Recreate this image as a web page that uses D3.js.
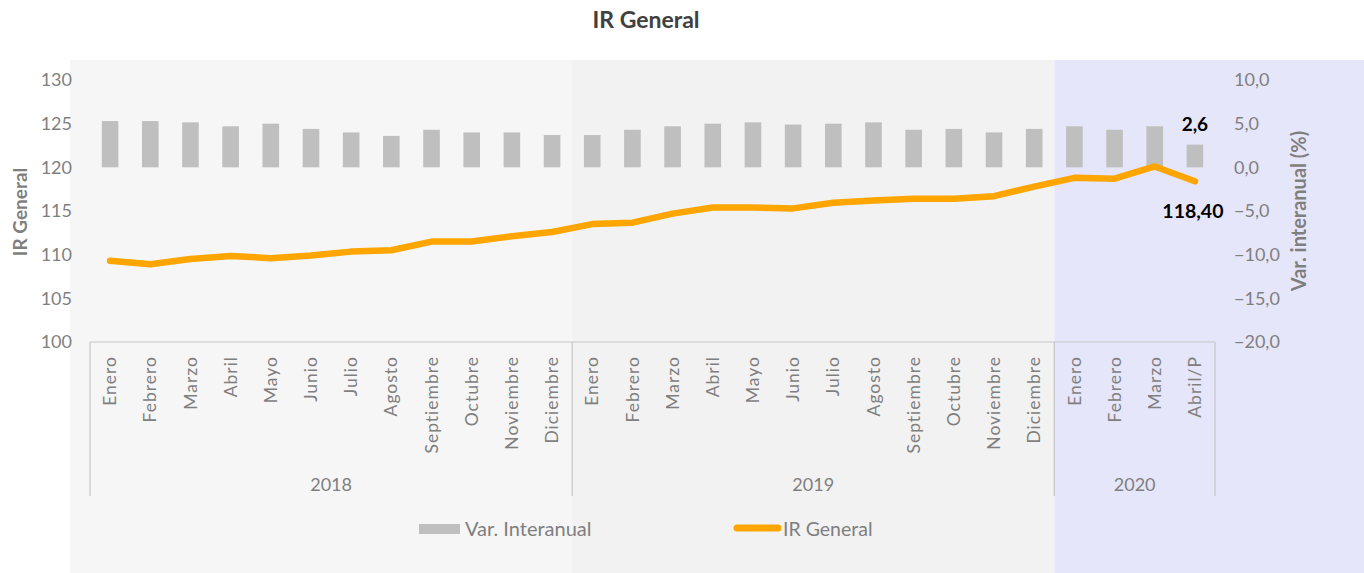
<!DOCTYPE html>
<html>
<head>
<meta charset="utf-8">
<script src="https://cdn.jsdelivr.net/npm/d3@7"></script>
<style>
  body { margin: 0; background: #fff; }
  svg { display: block; font-family: Lato, "Open Sans", sans-serif; }
</style>
</head>
<body>
<svg id="chart" width="1364" height="573"></svg>
<script>
// months shown on the category axis
const months = ["Enero","Febrero","Marzo","Abril","Mayo","Junio","Julio","Agosto","Septiembre","Octubre","Noviembre","Diciembre",
  "Enero","Febrero","Marzo","Abril","Mayo","Junio","Julio","Agosto","Septiembre","Octubre","Noviembre","Diciembre",
  "Enero","Febrero","Marzo","Abril/P"];
const years = ["2018","2019","2020"];
const yearCounts = [12, 12, 4];

// Var. interanual (%) - bars, right axis
const varInteranual = [5.3,5.3,5.15,4.7,5.0,4.4,4.0,3.6,4.3,4.0,4.0,3.7,
  3.7,4.3,4.7,5.0,5.15,4.9,5.0,5.15,4.3,4.4,4.0,4.4,
  4.7,4.3,4.7,2.6];
// IR General - line, left axis
const irGeneral = [109.3,108.9,109.5,109.85,109.6,109.9,110.35,110.5,111.5,111.5,112.1,112.6,
  113.5,113.66,114.7,115.4,115.4,115.3,115.95,116.2,116.4,116.4,116.7,117.8,
  118.8,118.7,120.1,118.4];

const leftTicks = [100,105,110,115,120,125,130];
const rightTicks = [-20,-15,-10,-5,0,5,10];
const panelColors = ["#f6f6f6","#f2f2f2","#e6e6fa"];

const svg = d3.select("#chart");
const W = 1364, H = 573;
const x0 = 90, x1 = 1215, yTop = 80, yBot = 342;

const idx = d3.range(months.length);
const x = d3.scaleBand().domain(idx).range([x0, x1]).padding(0);
const yL = d3.scaleLinear().domain([100, 130]).range([yBot, yTop]);
const yR = d3.scaleLinear().domain([-20, 10]).range([yBot, yTop]);

const grey = "#7f7f7f";

// year boundaries (index where each year starts)
const starts = yearCounts.map((c, i) => d3.sum(yearCounts.slice(0, i)));
const bounds = starts.map(s => x(s)).concat([x1]);

// background panels per year
const panelEdges = [70, bounds[1], bounds[2], W];
svg.selectAll("rect.panel")
  .data(years)
  .join("rect")
  .attr("class", "panel")
  .attr("x", (d, i) => panelEdges[i])
  .attr("y", 60)
  .attr("width", (d, i) => panelEdges[i + 1] - panelEdges[i])
  .attr("height", H - 60)
  .attr("fill", (d, i) => panelColors[i]);

// title
svg.append("text")
  .attr("x", 646).attr("y", 28)
  .attr("text-anchor", "middle")
  .attr("font-size", 23).attr("font-weight", 700)
  .attr("fill", "#404040")
  .text("IR General");

// left axis
const axL = svg.append("g").attr("transform", `translate(${72},0)`)
  .call(d3.axisLeft(yL).tickValues(leftTicks).tickSize(0).tickPadding(0));
axL.select(".domain").remove();
axL.selectAll("text").attr("font-size", 18).attr("fill", grey).attr("font-family", "Lato");

// right axis
const axR = svg.append("g").attr("transform", `translate(${1234},0)`)
  .call(d3.axisRight(yR).tickValues(rightTicks).tickSize(0).tickPadding(0)
    .tickFormat(d => d3.format(".1f")(d).replace(".", ",")));
axR.select(".domain").remove();
axR.selectAll("text").attr("font-size", 18).attr("fill", grey).attr("font-family", "Lato");

// axis titles
svg.append("text")
  .attr("transform", `translate(27,212) rotate(-90)`)
  .attr("text-anchor", "middle")
  .attr("font-size", 19).attr("font-weight", 700).attr("fill", grey)
  .text("IR General");
svg.append("text")
  .attr("transform", `translate(1306,211) rotate(-90)`)
  .attr("text-anchor", "middle")
  .attr("font-size", 20).attr("font-weight", 700).attr("fill", grey)
  .text("Var. interanual (%)");

// bars
const bw = 16.6;
svg.selectAll("rect.bar")
  .data(varInteranual)
  .join("rect")
  .attr("class", "bar")
  .attr("x", (d, i) => x(i) + x.bandwidth() / 2 - bw / 2)
  .attr("y", d => yR(Math.max(0, d)))
  .attr("width", bw)
  .attr("height", d => Math.abs(yR(d) - yR(0)))
  .attr("fill", "#bfbfbf");

// line
const line = d3.line()
  .x((d, i) => x(i) + x.bandwidth() / 2)
  .y(d => yL(d));
svg.append("path")
  .datum(irGeneral)
  .attr("d", line)
  .attr("fill", "none")
  .attr("stroke", "#ffa500")
  .attr("stroke-width", 6.5)
  .attr("stroke-linejoin", "round")
  .attr("stroke-linecap", "round");

// data labels on the last point
const last = months.length - 1;
const fmt = (v, p) => d3.format(`.${p}f`)(v).replace(".", ",");
svg.append("text")
  .attr("x", x(last) + x.bandwidth() / 2).attr("y", yR(varInteranual[last]) - 20)
  .attr("text-anchor", "middle").attr("dy", "0.35em")
  .attr("font-size", 19).attr("font-weight", 700).attr("fill", "#000")
  .text(fmt(varInteranual[last], 1));
svg.append("text")
  .attr("x", x(last) + x.bandwidth() / 2 - 2).attr("y", yL(irGeneral[last]) + 30)
  .attr("text-anchor", "middle").attr("dy", "0.35em")
  .attr("font-size", 19.5).attr("font-weight", 700).attr("fill", "#000")
  .text(fmt(irGeneral[last], 2));

// category axis: top line and year separators
const axisColor = "#c6c6c6";
svg.append("line")
  .attr("x1", x0).attr("x2", x1).attr("y1", yBot).attr("y2", yBot)
  .attr("stroke", axisColor).attr("stroke-width", 1.2);
svg.selectAll("line.sep")
  .data(bounds)
  .join("line")
  .attr("class", "sep")
  .attr("x1", d => d).attr("x2", d => d)
  .attr("y1", yBot).attr("y2", 496)
  .attr("stroke", axisColor).attr("stroke-width", 1.2);

// month labels
svg.selectAll("text.month")
  .data(months)
  .join("text")
  .attr("class", "month")
  .attr("transform", (d, i) => `translate(${x(i) + x.bandwidth() / 2},356) rotate(-90)`)
  .attr("text-anchor", "end").attr("dy", "0.35em")
  .attr("font-size", 17.5).attr("letter-spacing", 1).attr("fill", grey)
  .text(d => d);

// year labels
svg.selectAll("text.year")
  .data(years)
  .join("text")
  .attr("class", "year")
  .attr("x", (d, i) => (bounds[i] + bounds[i + 1]) / 2)
  .attr("y", 485).attr("dy", "0.35em")
  .attr("text-anchor", "middle")
  .attr("font-size", 18).attr("fill", grey)
  .text(d => d);

// legend
const lg = svg.append("g");
lg.append("rect").attr("x", 419).attr("y", 524).attr("width", 41).attr("height", 10).attr("fill", "#bfbfbf");
lg.append("text").attr("x", 465).attr("y", 529).attr("dy", "0.35em")
  .attr("font-size", 20).attr("fill", grey).text("Var. Interanual");
lg.append("line").attr("x1", 737).attr("x2", 778).attr("y1", 528).attr("y2", 528)
  .attr("stroke", "#ffa500").attr("stroke-width", 7).attr("stroke-linecap", "round");
lg.append("text").attr("x", 783).attr("y", 529).attr("dy", "0.35em")
  .attr("font-size", 19.5).attr("fill", grey).text("IR General");
</script>
</body>
</html>
